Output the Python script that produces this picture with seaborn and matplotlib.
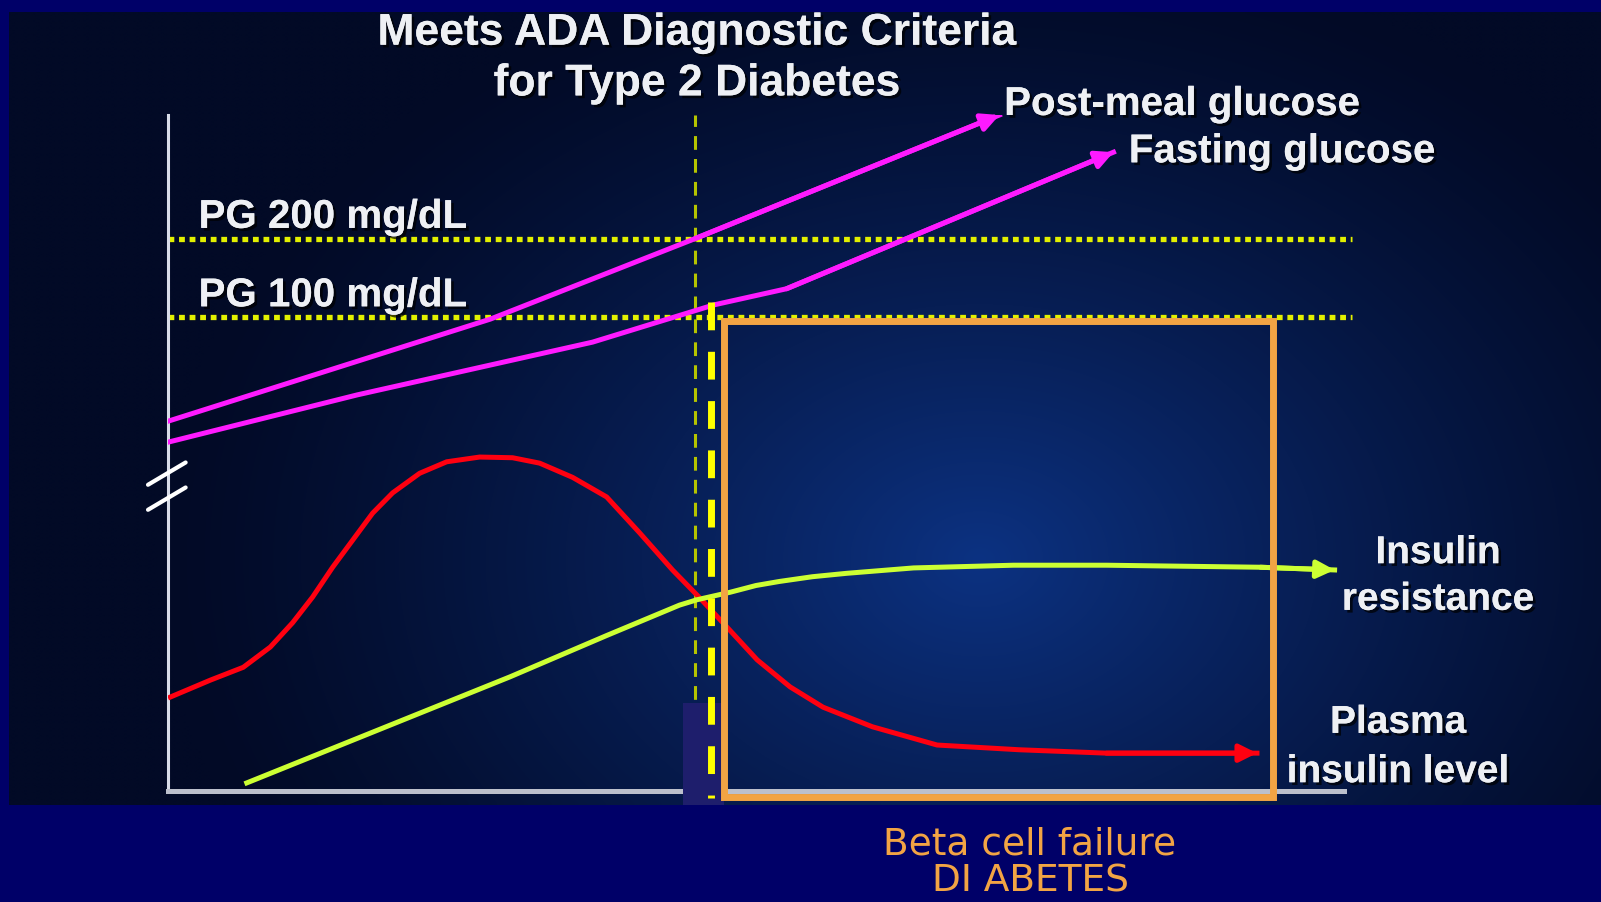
#import necessary libraries

import numpy as np
import pandas as pd
import matplotlib
matplotlib.use("Agg")
import matplotlib.pyplot as plt
import seaborn as sns
from matplotlib import patheffects
from matplotlib.patches import Rectangle

#data (x = time, y = relative level 0-100)

postmeal_x = [0, 27.4, 44.8, 70.7]
postmeal_y = [54.7, 69.8, 81.7, 100]

fasting_x = [0, 16.1, 36.1, 46.4, 52.6, 80.4]
fasting_y = [51.6, 58.6, 66.4, 71.9, 74.3, 94.5]

insulin_x = [0.2, 3.6, 6.4, 8.7, 10.6, 12.3, 14.0, 15.7, 17.4, 19.1, 21.4, 23.7, 26.5,
             29.3, 31.6, 34.4, 37.3, 40.1, 42.9, 45.2, 47.5, 50.1, 52.9, 55.7, 59.9,
             65.4, 72.4, 79.8, 92.6]
insulin_y = [13.9, 16.4, 18.3, 21.3, 24.9, 28.7, 33.1, 37.1, 41.1, 44.1, 47.0, 48.7, 49.4,
             49.3, 48.5, 46.4, 43.5, 38.2, 32.7, 28.6, 24.3, 19.4, 15.4, 12.4, 9.5,
             6.8, 6.1, 5.6, 5.6]

resist_x = [6.7, 29.1, 37.3, 43.5, 45.0, 47.8, 50.0, 52.0, 54.8, 57.7, 63.4, 71.9, 79.8, 92.9, 99.2]
resist_y = [1.2, 16.9, 23.0, 27.5, 28.3, 29.4, 30.4, 31.0, 31.7, 32.2, 33.0, 33.4, 33.4, 33.1, 32.7]

pg_levels = [81.7, 70.1]
pg_labels = ["PG 200 mg/dL", "PG 100 mg/dL"]
pg_end = 100.7

ada_x = 44.8          # meets ADA criteria
failure_x = 46.2      # beta cell failure starts
failure_top = 72.3
box_x = [47.3, 94.0]
box_y = [-0.9, 69.5]

#colours

bg_navy = "#000068"
magenta = "#ff1aff"
red = "#ff0010"
green = "#ccff33"
orange = "#f2a444"
white = "#eef0f4"

plt.rcParams["font.family"] = ["Liberation Sans", "DejaVu Sans"]

fig = plt.figure(figsize=(16.01, 9.02), dpi=100, facecolor=bg_navy)

#background picture (dark blue glow)
bg = fig.add_axes([0, 0, 1, 1])
bg.set_xlim(0, 1601)
bg.set_ylim(902, 0)
bg.axis("off")
gx, gy = np.meshgrid(np.linspace(9, 1601, 400), np.linspace(12, 805, 200))
d = np.sqrt(((gx - 980) / 820) ** 2 + ((gy - 560) / 620) ** 2)
t = np.clip(1 - d, 0, 1) ** 1.3
inner = np.array([12, 50, 130]) / 255
outer = np.array([2, 10, 38]) / 255
grad = outer + (inner - outer) * t[..., None]
bg.imshow(grad, extent=(9, 1601, 805, 12), aspect="auto", interpolation="bilinear")

#chart axes
ax = fig.add_axes([168 / 1601, 111 / 902, 1176 / 1601, 676 / 902])
ax.patch.set_alpha(0)
ax.set_xlim(0, 100)
ax.set_ylim(0, 100)
ax.set_xticks([])
ax.set_yticks([])
for s in ["top", "right"]:
    ax.spines[s].set_visible(False)
ax.spines["left"].set_color("#d8dce8")
ax.spines["left"].set_linewidth(2.2)
ax.spines["bottom"].set_color("#bcc0cc")
ax.spines["bottom"].set_linewidth(3.6)

#axis break marks
for y0 in [45.3, 41.6]:
    ax.plot([-1.7, 1.5], [y0, y0 + 3.3], color="white", lw=3, clip_on=False,
            solid_capstyle="round", zorder=6)

shadow = [patheffects.withSimplePatchShadow(offset=(2, -2), shadow_rgbFace="black", alpha=0.7),
          patheffects.Normal()]

#PG threshold lines
for lvl, lab in zip(pg_levels, pg_labels):
    ax.plot([0, pg_end], [lvl, lvl], color="#e2f000", lw=3.8, dashes=(1.1, 0.9),
            clip_on=False, zorder=2)
    ax.text(2.6, lvl + 1.6, lab, color=white, fontsize=29, fontweight="bold",
            va="baseline", path_effects=shadow)

#vertical markers
ax.plot([ada_x, ada_x], [0, 100], color="#b5c400", lw=2.2, dashes=(4.5, 3.0), zorder=2)

ax.add_patch(Rectangle((43.8, -2.1), 3.5, 15.1, facecolor="#1e1e6c", edgecolor="none",
                       clip_on=False, zorder=4))
ax.plot([failure_x, failure_x], [failure_top, -1], color="#ffff00", lw=5,
        dashes=(4, 3.1), clip_on=False, zorder=5)

#curves
curves = [
    (postmeal_x, postmeal_y, magenta),
    (fasting_x, fasting_y, magenta),
    (insulin_x, insulin_y, red),
    (resist_x, resist_y, green),
]
for cx, cy, col in curves:
    df = pd.DataFrame({"x": cx, "y": cy})
    sns.lineplot(data=df, x="x", y="y", ax=ax, color=col, lw=3.6, sort=False,
                 estimator=None, zorder=3)
    ax.annotate("", xy=(cx[-1], cy[-1]), xytext=(cx[-2], cy[-2]),
                arrowprops=dict(arrowstyle="-|>", color=col, lw=3.6, mutation_scale=26,
                                shrinkA=0, shrinkB=0), zorder=3, annotation_clip=False)
ax.set_xlabel("")
ax.set_ylabel("")

#beta cell failure window
ax.add_patch(Rectangle((box_x[0], box_y[0]), box_x[1] - box_x[0], box_y[1] - box_y[0],
                       facecolor="none", edgecolor=orange, lw=5, clip_on=False, zorder=6))

#labels
ax.text(45.0, 110.4, "Meets ADA Diagnostic Criteria", color=white, fontsize=32,
        fontweight="bold", ha="center", va="baseline", path_effects=shadow, clip_on=False)
ax.text(45.0, 102.9, "for Type 2 Diabetes", color=white, fontsize=32,
        fontweight="bold", ha="center", va="baseline", path_effects=shadow, clip_on=False)
ax.text(71.1, 100.0, "Post-meal glucose", color=white, fontsize=29, fontweight="bold",
        va="baseline", path_effects=shadow, clip_on=False)
ax.text(81.7, 93.0, "Fasting glucose", color=white, fontsize=29, fontweight="bold",
        va="baseline", path_effects=shadow, clip_on=False)
ax.text(108.0, 33.7, "Insulin", color=white, fontsize=28, fontweight="bold",
        ha="center", va="baseline", path_effects=shadow, clip_on=False)
ax.text(108.0, 26.8, "resistance", color=white, fontsize=28, fontweight="bold",
        ha="center", va="baseline", path_effects=shadow, clip_on=False)
ax.text(104.6, 8.6, "Plasma", color=white, fontsize=28, fontweight="bold",
        ha="center", va="baseline", path_effects=shadow, clip_on=False)
ax.text(104.6, 1.3, "insulin level", color=white, fontsize=28, fontweight="bold",
        ha="center", va="baseline", path_effects=shadow, clip_on=False)
ax.text(73.3, -9.4, "Beta cell failure", color=orange, fontsize=27, family="DejaVu Sans",
        ha="center", va="baseline", clip_on=False)
ax.text(73.3, -14.9, "DI ABETES", color=orange, fontsize=27, family="DejaVu Sans",
        ha="center", va="baseline", clip_on=False)

fig.savefig("out.png", dpi=100, facecolor=bg_navy)
